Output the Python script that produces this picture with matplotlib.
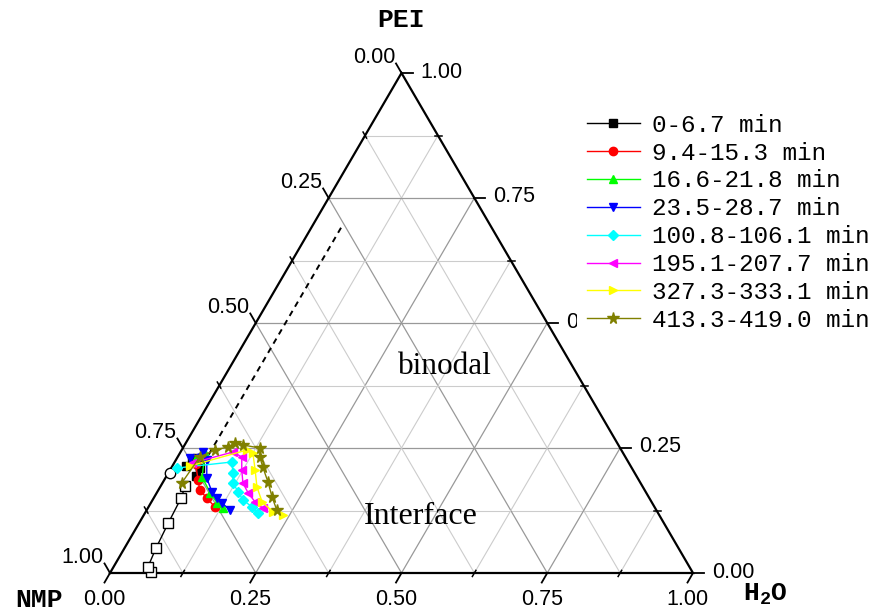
import numpy as np
import matplotlib.pyplot as plt

plt.rcParams['font.family'] = ['Liberation Sans', 'DejaVu Sans']
plt.rcParams['mathtext.fontset'] = 'custom'
plt.rcParams['mathtext.rm'] = 'Liberation Mono:bold'
plt.rcParams['mathtext.default'] = 'rm'

S3 = np.sqrt(3) / 2

# compositions as (H2O, PEI) fractions; NMP = 1 - H2O - PEI
labels = ['0-6.7 min', '9.4-15.3 min', '16.6-21.8 min', '23.5-28.7 min',
          '100.8-106.1 min', '195.1-207.7 min', '327.3-333.1 min', '413.3-419.0 min']
colors = ['black', 'red', '#00ff00', 'blue', 'cyan', 'magenta', 'yellow', '#808000']
markers = ['s', 'o', '^', 'v', 'D', '<', '>', '*']

h_black = [0.050, 0.049, 0.034, 0.028, 0.023]
p_black = [0.194, 0.210, 0.230, 0.226, 0.214]
h_red = [0.038, 0.058, 0.071, 0.091, 0.114]
p_red = [0.218, 0.186, 0.166, 0.150, 0.132]
h_green = [0.033, 0.043, 0.062, 0.092, 0.114, 0.129]
p_green = [0.226, 0.240, 0.192, 0.160, 0.140, 0.130]
h_blue = [0.022, 0.039, 0.053, 0.071, 0.094, 0.109, 0.122, 0.143]
p_blue = [0.230, 0.242, 0.226, 0.190, 0.162, 0.150, 0.140, 0.126]
h_cyan = [0.010, 0.098, 0.111, 0.121, 0.139, 0.155, 0.178, 0.194]
p_cyan = [0.210, 0.222, 0.200, 0.180, 0.162, 0.146, 0.132, 0.120]
h_mag = [0.031, 0.090, 0.110, 0.123, 0.138, 0.157, 0.178, 0.197]
p_mag = [0.220, 0.242, 0.232, 0.206, 0.180, 0.160, 0.142, 0.130]
h_yel = [0.030, 0.112, 0.125, 0.146, 0.166, 0.190, 0.219, 0.239]
p_yel = [0.214, 0.246, 0.240, 0.206, 0.172, 0.142, 0.122, 0.116]
h_olive = [0.033, 0.038, 0.057, 0.076, 0.084, 0.100, 0.132, 0.141, 0.156, 0.180, 0.202, 0.223]
p_olive = [0.180, 0.232, 0.246, 0.252, 0.260, 0.256, 0.250, 0.232, 0.212, 0.182, 0.152, 0.126]

h_open = [0.069, 0.059, 0.054, 0.050, 0.047, 0.042]
p_open = [0.002, 0.012, 0.050, 0.100, 0.150, 0.174]
h_dash = [0.051, 0.051]
p_dash = [0.200, 0.698]
h_circ = [0.003]
p_circ = [0.200]

series_h = [h_black, h_red, h_green, h_blue, h_cyan, h_mag, h_yel, h_olive]
series_p = [p_black, p_red, p_green, p_blue, p_cyan, p_mag, p_yel, p_olive]


def tern(h, p):
    h = np.asarray(h, float)
    p = np.asarray(p, float)
    return h + p / 2, p * S3


fig = plt.figure(figsize=(8.74, 6.14), dpi=100)
ax = fig.add_axes([110 / 874, 41 / 614, 583 / 874, 500 / 614])
ax.set_xlim(0, 1)
ax.set_ylim(0, S3)
ax.axis('off')

px = 1 / 583.0
py = S3 / 500.0

# grid
for k in range(1, 8):
    v = k / 8
    c, lw = ('#999999', 0.9) if k % 2 == 0 else ('#cccccc', 0.8)
    for hh, pp in [([0, 1 - v], [v, v]), ([v, v], [0, 1 - v]), ([1 - v, 0], [0, 1 - v])]:
        x, y = tern(hh, pp)
        ax.plot(x, y, color=c, lw=lw, zorder=1)

# frame
x, y = tern([0, 1, 0, 0], [0, 0, 1, 0])
ax.plot(x, y, color='black', lw=1.6, zorder=2, solid_joinstyle='miter', clip_on=False)

L = 11
for k in range(9):
    v = k / 8
    major = k % 2 == 0
    # left axis: NMP
    x0, y0 = tern(0, 1 - v)
    d = np.array([-0.5 * px, 0.866 * py])
    if major:
        ax.plot([x0, x0 + L * d[0]], [y0, y0 + L * d[1]], color='black', lw=1.3, clip_on=False)
        ax.text(x0 + L * d[0] - px, y0 + L * d[1] + 6 * py, '%.2f' % v, ha='right', va='center',
                fontsize=15.5, zorder=3)
    else:
        ax.plot([x0 - 3 * d[0], x0 + 4 * d[0]], [y0 - 3 * d[1], y0 + 4 * d[1]], color='black', lw=1.1)
    # right axis: PEI
    x0, y0 = tern(1 - v, v)
    if major:
        ax.plot([x0, x0 + L * px], [y0, y0], color='black', lw=1.3, clip_on=False)
        ax.text(x0 + (L + 8) * px, y0 + py, '%.2f' % v, ha='left', va='center',
                fontsize=15.5, zorder=3)
    else:
        ax.plot([x0 - 3 * px, x0 + 4 * px], [y0, y0], color='black', lw=1.1)
    # bottom axis: H2O
    x0, y0 = tern(v, 0)
    d = np.array([-0.5 * px, -0.866 * py])
    if major:
        ax.plot([x0, x0 + L * d[0]], [y0, y0 + L * d[1]], color='black', lw=1.3, clip_on=False)
        ax.text(x0 + L * d[0], y0 + L * d[1] - 6 * py, '%.2f' % v, ha='center', va='top',
                fontsize=15.5, zorder=3)
    else:
        ax.plot([x0 - 3 * d[0], x0 + 4 * d[0]], [y0 - 3 * d[1], y0 + 4 * d[1]], color='black',
                lw=1.1, clip_on=False)

# reference path
x, y = tern(h_dash, p_dash)
ax.plot(x, y, color='black', lw=1.4, ls=(0, (3, 2.5)), zorder=3)
x, y = tern(h_open, p_open)
ax.plot(x, y, color='black', lw=1, marker='s', ms=7, mfc='white', mec='black', mew=1,
        zorder=3, clip_on=False)
x, y = tern(h_circ, p_circ)
ax.plot(x, y, ls='none', marker='o', ms=7.5, mfc='white', mec='black', mew=1, zorder=3)

handles = []
for hh, pp, lab, c, m in zip(series_h, series_p, labels, colors, markers):
    x, y = tern(hh, pp)
    ms = 8.5 if m == '*' else (5 if m == 'D' else 6)
    ln, = ax.plot(x, y, color=c, marker=m, ms=ms, mec=c, lw=1, label=lab, zorder=4)
    handles.append(ln)

leg = ax.legend(handles=handles, loc='upper left', bbox_to_anchor=(577 / 874, 1 - 104 / 614),
                bbox_transform=fig.transFigure, borderaxespad=0, borderpad=0.4,
                frameon=True, facecolor='white', edgecolor='none', framealpha=1,
                fancybox=False, handlelength=2.2, handletextpad=0.5, labelspacing=0.2,
                prop={'family': 'Liberation Mono', 'size': 17.5})
leg.set_zorder(10)

x, y = tern(0.368, 0.414)
ax.text(x, y, 'binodal', fontsize=22.5, family='Liberation Serif', ha='center', va='center')
x, y = tern(0.477, 0.112)
ax.text(x, y, 'Interface', fontsize=23, family='Liberation Serif', ha='center', va='center')

fig.text(401 / 874, 1 - 20 / 614, 'PEI', family='Liberation Mono', weight='bold', fontsize=19,
         ha='center', va='center')
fig.text(39 / 874, 1 - 600 / 614, 'NMP', family='Liberation Mono', weight='bold', fontsize=19,
         ha='center', va='center')
fig.text(765 / 874, 1 - 594 / 614, 'H$_2$O', family='Liberation Mono', weight='bold', fontsize=19,
         ha='center', va='center')

fig.savefig('out.png', dpi=100)
